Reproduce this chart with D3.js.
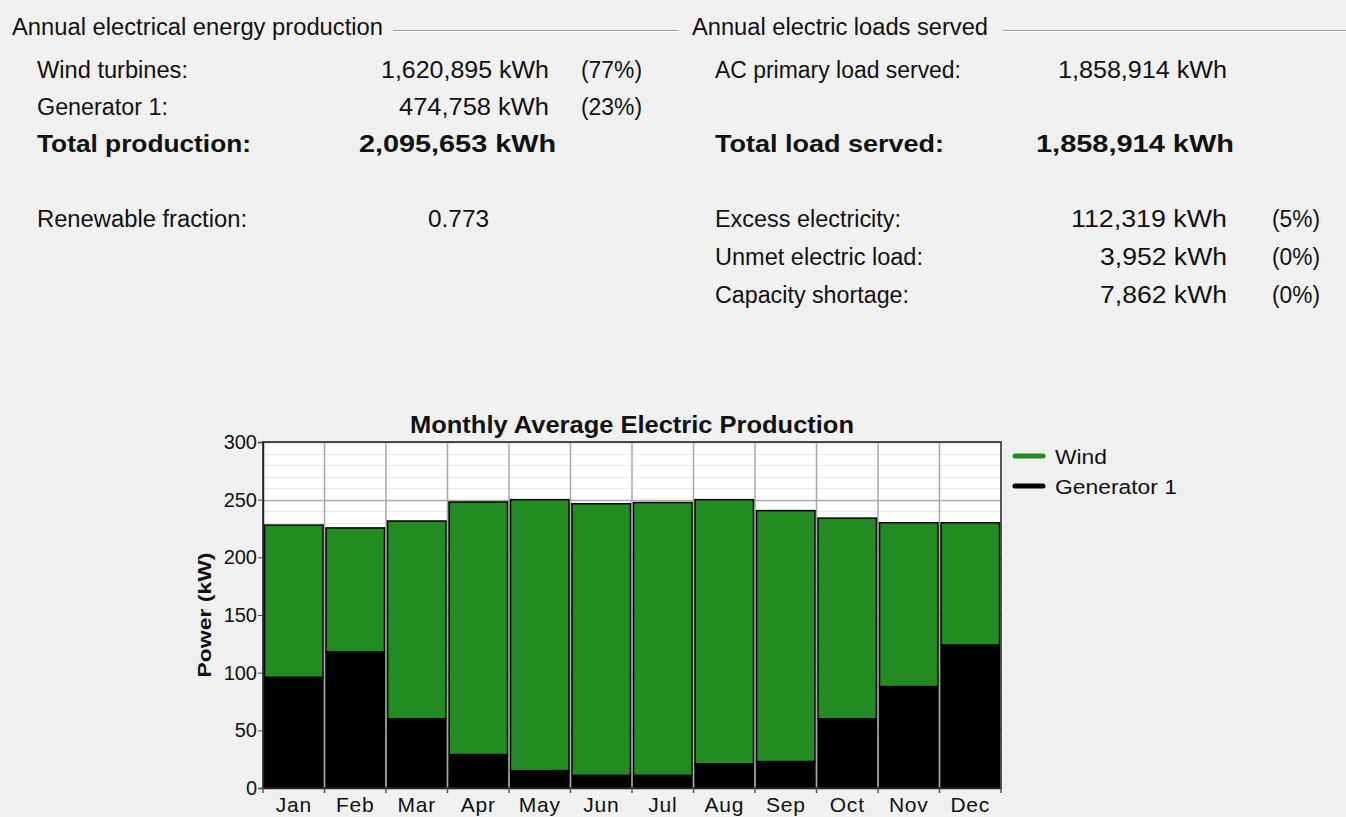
<!DOCTYPE html>
<html>
<head>
<meta charset="utf-8">
<script src="https://cdn.jsdelivr.net/npm/d3@7"></script>
<style>
  body { margin: 0; background: #f0f0f0; }
  svg { display: block; }
  text { font-family: "Liberation Sans", Arial, sans-serif; fill: #111; }
</style>
</head>
<body>
<script>
// monthly chart data (kW)
var months = ["Jan","Feb","Mar","Apr","May","Jun","Jul","Aug","Sep","Oct","Nov","Dec"];
var generator = [96, 118, 60, 29, 15, 11, 11, 21, 23, 60, 88, 124];
var wind = [132, 107.5, 171.5, 219, 235, 235.5, 236.5, 229, 217.5, 174, 142, 106];
var yTicks = [0, 50, 100, 150, 200, 250, 300];
var seriesNames = ["Wind", "Generator 1"];
var seriesColors = ["#228b22", "#000000"];

// summary text rows
var productionRows = [
  ["Wind turbines:", "1,620,895 kWh", "(77%)"],
  ["Generator 1:", "474,758 kWh", "(23%)"]
];
var productionTotal = ["Total production:", "2,095,653 kWh"];
var renewable = ["Renewable fraction:", "0.773"];
var loadRows = [["AC primary load served:", "1,858,914 kWh"]];
var loadTotal = ["Total load served:", "1,858,914 kWh"];
var otherRows = [
  ["Excess electricity:", "112,319 kWh", "(5%)"],
  ["Unmet electric load:", "3,952 kWh", "(0%)"],
  ["Capacity shortage:", "7,862 kWh", "(0%)"]
];

var width = 1346, height = 817;
var svg = d3.select("body").append("svg")
  .attr("width", width)
  .attr("height", height);

// squeeze a text to the width it has in the picture
function fit(sel, w){
  return sel.attr("textLength", w).attr("lengthAdjust", "spacingAndGlyphs");
}

//---- summary panels
function header(x, txt, tl, lineX1, lineX2){
  fit(svg.append("text").attr("x", x).attr("y", 35).attr("font-size", 23).text(txt), tl);
  svg.append("line").attr("x1", lineX1).attr("x2", lineX2)
    .attr("y1", 30.5).attr("y2", 30.5).attr("stroke", "#a0a0a0");
  svg.append("line").attr("x1", lineX1).attr("x2", lineX2)
    .attr("y1", 31.5).attr("y2", 31.5).attr("stroke", "#ffffff");
}
header(12, "Annual electrical energy production", 371, 393, 678);
header(692, "Annual electric loads served", 296, 1003, 1346);

function row(y, cells, o){
  var g = svg.append("g")
    .attr("font-size", o.bold ? 24 : 23)
    .attr("font-weight", o.bold ? "bold" : "normal");
  fit(g.append("text").attr("x", o.lx).attr("y", y).text(cells[0]), o.lw);
  fit(g.append("text").attr("x", o.vx).attr("y", y).attr("text-anchor", "end").text(cells[1]), o.vw);
  if (cells[2]) fit(g.append("text").attr("x", o.px).attr("y", y).text(cells[2]), o.pw);
}

var prodLabelW = [151, 131], prodValW = [168, 150];
productionRows.forEach(function(r, i){
  row(78 + i * 37, r, {lx: 37, lw: prodLabelW[i], vx: 549, vw: prodValW[i], px: 581, pw: 61});
});
row(152, productionTotal, {bold: true, lx: 37, lw: 214, vx: 556, vw: 197});
fit(svg.append("text").attr("x", 37).attr("y", 227).attr("font-size", 23).text(renewable[0]), 210);
fit(svg.append("text").attr("x", 428).attr("y", 227).attr("font-size", 23).text(renewable[1]), 61);

row(78, loadRows[0], {lx: 715, lw: 246, vx: 1227, vw: 169});
row(152, loadTotal, {bold: true, lx: 715, lw: 229, vx: 1234, vw: 198});
var otherLabelW = [186, 208, 194], otherValW = [156, 127, 127];
otherRows.forEach(function(r, i){
  row(227 + i * 38, r, {lx: 715, lw: otherLabelW[i], vx: 1227, vw: otherValW[i], px: 1272, pw: 48});
});

//---- chart
var plot = {left: 263, right: 1001, top: 442, bottom: 788};

var x = d3.scaleBand().domain(months).range([plot.left, plot.right]).padding(0);
var y = d3.scaleLinear().domain([0, 300]).range([plot.bottom, plot.top]);

var chart = svg.append("g");
chart.append("rect")
  .attr("x", plot.left).attr("y", plot.top)
  .attr("width", plot.right - plot.left).attr("height", plot.bottom - plot.top)
  .attr("fill", "#ffffff");

// minor grid every 10, major every 50
chart.selectAll(".minor").data(d3.range(10, 300, 10).filter(function(v){ return v % 50 !== 0; }))
  .enter().append("line")
  .attr("x1", plot.left).attr("x2", plot.right)
  .attr("y1", function(d){ return Math.round(y(d)) + 0.5; })
  .attr("y2", function(d){ return Math.round(y(d)) + 0.5; })
  .attr("stroke", "#ebebeb");
chart.selectAll(".major").data(yTicks.slice(1))
  .enter().append("line")
  .attr("x1", plot.left).attr("x2", plot.right)
  .attr("y1", function(d){ return Math.round(y(d)) + 0.5; })
  .attr("y2", function(d){ return Math.round(y(d)) + 0.5; })
  .attr("stroke", "#aaaaaa").attr("stroke-width", 1.5);

// vertical grid at band edges
chart.selectAll(".vgrid").data(months.slice(1))
  .enter().append("line")
  .attr("x1", function(d){ return x(d); }).attr("x2", function(d){ return x(d); })
  .attr("y1", plot.top).attr("y2", plot.bottom)
  .attr("stroke", "#a8a8a8").attr("stroke-width", 1.5);

// stacked bars
var stackData = months.map(function(m, i){ return {month: m, gen: generator[i], wind: wind[i]}; });
var layers = d3.stack().keys(["gen", "wind"])(stackData);
var layerColor = {gen: seriesColors[1], wind: seriesColors[0]};

chart.selectAll(".layer").data(layers).enter().append("g")
  .attr("fill", function(d){ return layerColor[d.key]; })
  .selectAll("rect").data(function(d){ return d; })
  .enter().append("rect")
  .attr("x", function(d){ return x(d.data.month) + 1.5; })
  .attr("width", x.bandwidth() - 3)
  .attr("y", function(d){ return y(d[1]); })
  .attr("height", function(d){ return y(d[0]) - y(d[1]); })
  .attr("stroke", "#000").attr("stroke-width", 1.5);

// frame
chart.append("rect")
  .attr("x", plot.left).attr("y", plot.top)
  .attr("width", plot.right - plot.left).attr("height", plot.bottom - plot.top)
  .attr("fill", "none").attr("stroke", "#222").attr("stroke-width", 1.5);

// axes
var yAxis = d3.axisLeft(y).tickValues(yTicks).tickSize(5).tickPadding(1);
var yg = chart.append("g").attr("transform", "translate(" + plot.left + ",0)").call(yAxis);
yg.select(".domain").attr("stroke", "#222").attr("stroke-width", 1.5);
yg.selectAll(".tick line").attr("stroke", "#444");
yg.selectAll(".tick text").attr("font-size", 20).attr("fill", "#1a1a1a")
  .attr("font-family", "Liberation Sans, Arial, sans-serif");

var xAxis = d3.axisBottom(x).tickSize(0).tickPadding(9);
var xg = chart.append("g").attr("transform", "translate(0," + plot.bottom + ")").call(xAxis);
xg.select(".domain").attr("stroke", "#222").attr("stroke-width", 1.5);
xg.selectAll(".tick text").attr("font-size", 21).attr("fill", "#1a1a1a")
  .attr("letter-spacing", 0.8)
  .attr("font-family", "Liberation Sans, Arial, sans-serif");
// ticks at band edges
xg.selectAll(".edge").data(months.concat(["end"]))
  .enter().append("line")
  .attr("x1", function(d, i){ return i < months.length ? x(d) : plot.right; })
  .attr("x2", function(d, i){ return i < months.length ? x(d) : plot.right; })
  .attr("y1", 0).attr("y2", 5)
  .attr("stroke", "#555").attr("stroke-width", 1.5);

// title and axis label
fit(svg.append("text")
  .attr("x", 410).attr("y", 433)
  .attr("font-size", 23).attr("font-weight", "bold")
  .attr("fill", "#1c1c30")
  .text("Monthly Average Electric Production"), 444);

fit(svg.append("text")
  .attr("transform", "translate(211,615) rotate(-90)")
  .attr("text-anchor", "middle").attr("font-size", 19).attr("font-weight", "bold")
  .text("Power (kW)"), 125);

// legend
var legend = svg.append("g").attr("transform", "translate(1014,456)");
var legendW = [52, 122];
seriesNames.forEach(function(name, i){
  var g = legend.append("g").attr("transform", "translate(0," + i * 30 + ")");
  g.append("line").attr("x1", 1).attr("x2", 29).attr("y1", 0).attr("y2", 0)
    .attr("stroke", seriesColors[i]).attr("stroke-width", 5).attr("stroke-linecap", "round");
  fit(g.append("text").attr("x", 41).attr("y", 8).attr("font-size", 20).attr("fill", "#1a1a1a").text(name), legendW[i]);
});
</script>
</body>
</html>
